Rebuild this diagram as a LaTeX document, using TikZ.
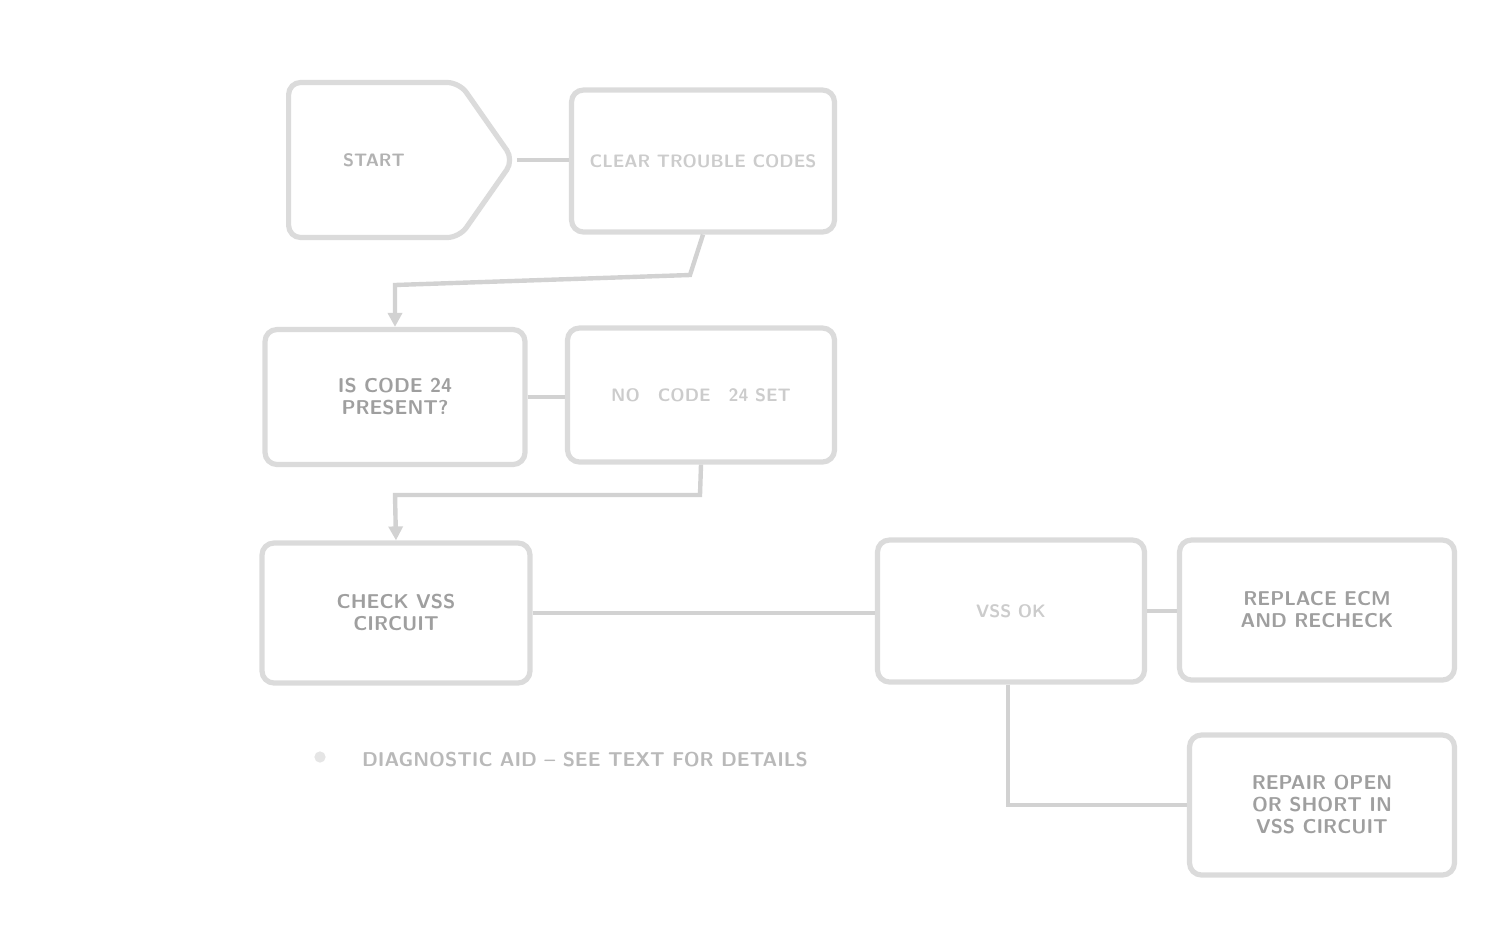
\documentclass[tikz,border=0pt]{standalone}
\usetikzlibrary{shapes.symbols,arrows.meta}
\begin{document}
\begin{tikzpicture}[x=0.5pt,y=-0.5pt,
  box/.style={draw=gray!28,line width=2.6pt,rounded corners=6pt,inner sep=2pt,align=center,
    text=gray!55,font=\sffamily\bfseries\fontsize{9}{10}\selectfont},
  darktext/.style={text=gray!75,font=\sffamily\bfseries\fontsize{10}{11}\selectfont},
  lighttext/.style={text=gray!40},
  conn/.style={draw=gray!35,line width=2.2pt},
  arr/.style={conn,-{Triangle[length=7pt,width=7pt]}}]
\useasboundingbox (0,0) rectangle (1490,949);
\node[box,shape=signal,signal to=east,signal pointer angle=110,minimum width=112.5pt,minimum height=77.5pt,lighttext,text=gray!60] (a) at (374,160) {START};
\node[box,minimum width=131.5pt,minimum height=71pt,lighttext] (b) at (703,161) {CLEAR TROUBLE CODES};
\node[box,minimum width=130pt,minimum height=67.5pt,darktext] (c) at (395,397) {IS CODE 24\\PRESENT?};
\node[box,minimum width=133.5pt,minimum height=67pt,lighttext] (d) at (701,395) {NO\quad CODE\quad 24 SET};
\node[box,minimum width=134pt,minimum height=70pt,darktext] (e) at (396,613) {CHECK VSS\\CIRCUIT};
\node[box,minimum width=133.5pt,minimum height=71pt,lighttext] (f) at (1011,611) {VSS OK};
\node[box,minimum width=137.5pt,minimum height=70pt,darktext] (g) at (1317,610) {REPLACE ECM\\AND RECHECK};
\node[box,minimum width=132.5pt,minimum height=70pt,darktext] (h) at (1322,805) {REPAIR OPEN\\OR SHORT IN\\VSS CIRCUIT};
\node[text=gray!55,font=\sffamily\bfseries\fontsize{10}{11}\selectfont,anchor=west] (legend) at (355,760) {DIAGNOSTIC AID -- SEE TEXT FOR DETAILS};
\node[circle,fill=gray!20,inner sep=2pt] (dot) at (320,757) {};
\coordinate (b1) at (690,275);
\coordinate (b2) at (395,285);
\coordinate (d1) at (700,495);
\coordinate (d2) at (395,495);
\coordinate (f1) at (1008,805);
\draw[conn] (a.east) -- (a.east -| b.west);
\draw[arr] (b.south) -- (b1) -- (b2) -- (c.north);
\draw[conn] (c.east) -- (c.east -| d.west);
\draw[arr] (d.south) -- (d1) -- (d2) -- (e.north);
\draw[conn] (e.east) -- (e.east -| f.west);
\draw[conn] (f.east) -- (f.east -| g.west);
\draw[conn] (f.south -| f1) -- (f1) -- (h.west);
\end{tikzpicture}
\end{document}
